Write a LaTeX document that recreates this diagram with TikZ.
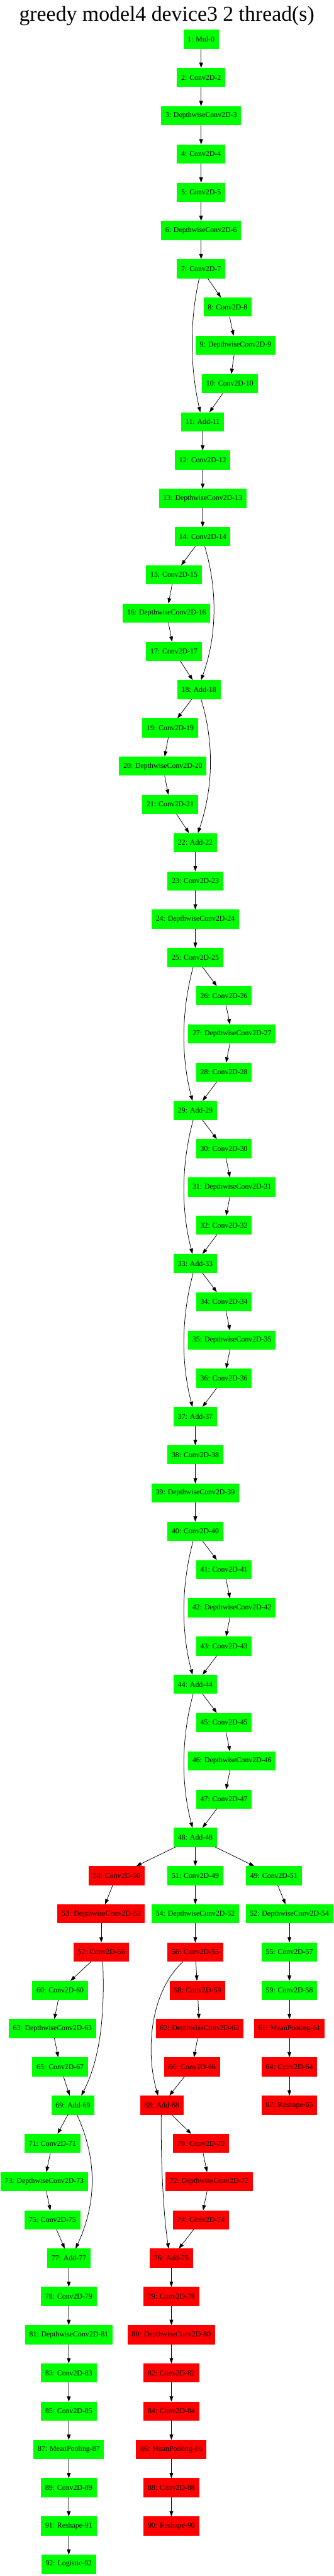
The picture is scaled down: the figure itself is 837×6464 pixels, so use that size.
\documentclass[tikz,border=0pt]{standalone}
\usepackage{fontspec}
\setmainfont{Liberation Serif}
\usetikzlibrary{arrows.meta, positioning}
\definecolor{gvgreen}{HTML}{00FF00}
\definecolor{gvred}{HTML}{FF0000}
\tikzstyle{gnode} = [rectangle, fill=gvgreen, minimum width=54pt, minimum height=36pt,
	inner xsep=8pt, inner ysep=2pt, outer sep=0pt, font=\fontsize{14pt}{16pt}\selectfont]
\tikzstyle{rnode} = [gnode, fill=gvred]
\tikzstyle{link} = [draw, -{Triangle[length=10pt, width=7pt]}, line width=0.9pt]

\begin{document}
\begin{tikzpicture}[x=0.75pt, y=-0.75pt, node distance = 72pt]
		\useasboundingbox (0,0) rectangle (837,6464);
		%Place title
		\node [font=\fontsize{40pt}{48pt}\selectfont, anchor=base] (title) at (418.5,53) {greedy model4 device3 2 thread(s)};
		
		%Place node
		\node [gnode] (n1) at (504.5,98.5) {1: Mul-0};
		\node [gnode, below of=n1] (n2) {2: Conv2D-2};
		\node [gnode, below of=n2] (n3) {3: DepthwiseConv2D-3};
		\node [gnode, below of=n3] (n4) {4: Conv2D-4};
		\node [gnode, below of=n4] (n5) {5: Conv2D-5};
		\node [gnode, below of=n5] (n6) {6: DepthwiseConv2D-6};
		\node [gnode, below of=n6] (n7) {7: Conv2D-7};
		\node [gnode, below of=n7, xshift=49.9pt] (n8) {8: Conv2D-8};
		\node [gnode, below of=n8, xshift=15pt] (n9) {9: DepthwiseConv2D-9};
		\node [gnode, below of=n9, xshift=-10.9pt] (n10) {10: Conv2D-10};
		\node [gnode, below of=n10, xshift=-51pt] (n11) {11: Add-11};
		\node [gnode, below of=n11] (n12) {12: Conv2D-12};
		\node [gnode, below of=n12] (n13) {13: DepthwiseConv2D-13};
		\node [gnode, below of=n13] (n14) {14: Conv2D-14};
		\node [gnode, below of=n14, xshift=-54pt] (n15) {15: Conv2D-15};
		\node [gnode, below of=n15, xshift=-13.9pt] (n16) {16: DepthwiseConv2D-16};
		\node [gnode, below of=n16, xshift=13.9pt] (n17) {17: Conv2D-17};
		\node [gnode, below of=n17, xshift=46.9pt] (n18) {18: Add-18};
		\node [gnode, below of=n18, xshift=-54pt] (n19) {19: Conv2D-19};
		\node [gnode, below of=n19, xshift=-13.9pt] (n20) {20: DepthwiseConv2D-20};
		\node [gnode, below of=n20, xshift=13.9pt] (n21) {21: Conv2D-21};
		\node [gnode, below of=n21, xshift=47.25pt] (n22) {22: Add-22};
		\node [gnode, below of=n22] (n23) {23: Conv2D-23};
		\node [gnode, below of=n23] (n24) {24: DepthwiseConv2D-24};
		\node [gnode, below of=n24] (n25) {25: Conv2D-25};
		\node [gnode, below of=n25, xshift=54pt] (n26) {26: Conv2D-26};
		\node [gnode, below of=n26, xshift=15pt] (n27) {27: DepthwiseConv2D-27};
		\node [gnode, below of=n27, xshift=-15pt] (n28) {28: Conv2D-28};
		\node [gnode, below of=n28, xshift=-54pt] (n29) {29: Add-29};
		\node [gnode, below of=n29, xshift=54pt] (n30) {30: Conv2D-30};
		\node [gnode, below of=n30, xshift=15pt] (n31) {31: DepthwiseConv2D-31};
		\node [gnode, below of=n31, xshift=-15pt] (n32) {32: Conv2D-32};
		\node [gnode, below of=n32, xshift=-54pt] (n33) {33: Add-33};
		\node [gnode, below of=n33, xshift=54pt] (n34) {34: Conv2D-34};
		\node [gnode, below of=n34, xshift=15pt] (n35) {35: DepthwiseConv2D-35};
		\node [gnode, below of=n35, xshift=-15pt] (n36) {36: Conv2D-36};
		\node [gnode, below of=n36, xshift=-54pt] (n37) {37: Add-37};
		\node [gnode, below of=n37] (n38) {38: Conv2D-38};
		\node [gnode, below of=n38] (n39) {39: DepthwiseConv2D-39};
		\node [gnode, below of=n39] (n40) {40: Conv2D-40};
		\node [gnode, below of=n40, xshift=54pt] (n41) {41: Conv2D-41};
		\node [gnode, below of=n41, xshift=15pt] (n42) {42: DepthwiseConv2D-42};
		\node [gnode, below of=n42, xshift=-15pt] (n43) {43: Conv2D-43};
		\node [gnode, below of=n43, xshift=-54pt] (n44) {44: Add-44};
		\node [gnode, below of=n44, xshift=54pt] (n45) {45: Conv2D-45};
		\node [gnode, below of=n45, xshift=15pt] (n46) {46: DepthwiseConv2D-46};
		\node [gnode, below of=n46, xshift=-15pt] (n47) {47: Conv2D-47};
		\node [gnode, below of=n47, xshift=-54pt] (n48) {48: Add-48};
		
		\node [rnode, below of=n48, xshift=-148.1pt] (n50) {50: Conv2D-50};
		\node [gnode, below of=n48] (n51) {51: Conv2D-49};
		\node [gnode, below of=n48, xshift=147.75pt] (n49) {49: Conv2D-51};
		\node [rnode, below of=n50, xshift=-28.9pt] (n53) {53: DepthwiseConv2D-53};
		\node [gnode, below of=n51] (n54) {54: DepthwiseConv2D-52};
		\node [gnode, below of=n49, xshift=29.25pt] (n52) {52: DepthwiseConv2D-54};
		\node [rnode, below of=n53] (n57) {57: Conv2D-56};
		\node [rnode, below of=n54] (n56) {56: Conv2D-55};
		\node [gnode, below of=n52] (n55) {55: Conv2D-57};
		\node [gnode, below of=n57, xshift=-77.25pt] (n60) {60: Conv2D-60};
		\node [rnode, below of=n56, xshift=4.1pt] (n58) {58: Conv2D-59};
		\node [gnode, below of=n55] (n59) {59: Conv2D-58};
		\node [gnode, below of=n60, xshift=-14.6pt] (n63) {63: DepthwiseConv2D-63};
		\node [rnode, below of=n58, xshift=3.75pt] (n62) {62: DepthwiseConv2D-62};
		\node [rnode, below of=n59] (n61) {61: MeanPooling-61};
		\node [gnode, below of=n63, xshift=14.6pt] (n65) {65: Conv2D-67};
		\node [rnode, below of=n62, xshift=-13.9pt] (n66) {66: Conv2D-66};
		\node [rnode, below of=n61] (n64) {64: Conv2D-64};
		\node [gnode, below of=n65, xshift=24pt] (n69) {69: Add-69};
		\node [rnode, below of=n66, xshift=-57pt] (n68) {68: Add-68};
		\node [rnode, below of=n64] (n67) {67: Reshape-65};
		\node [gnode, below of=n69, xshift=-38.6pt] (n71) {71: Conv2D-71};
		\node [rnode, below of=n68, xshift=73.9pt] (n70) {70: Conv2D-70};
		\node [gnode, below of=n71, xshift=-15.4pt] (n73) {73: DepthwiseConv2D-73};
		\node [rnode, below of=n70, xshift=15pt] (n72) {72: DepthwiseConv2D-72};
		\node [gnode, below of=n73, xshift=15.4pt] (n75) {75: Conv2D-75};
		\node [rnode, below of=n72, xshift=-15pt] (n74) {74: Conv2D-74};
		\node [gnode, below of=n75, xshift=30.75pt] (n77) {77: Add-77};
		\node [rnode, below of=n74, xshift=-55.9pt] (n76) {76: Add-76};
		\node [gnode, below of=n77] (n78) {78: Conv2D-79};
		\node [rnode, below of=n76] (n79) {79: Conv2D-78};
		\node [gnode, below of=n78] (n81) {81: DepthwiseConv2D-81};
		\node [rnode, below of=n79] (n80) {80: DepthwiseConv2D-80};
		\node [gnode, below of=n81] (n83) {83: Conv2D-83};
		\node [rnode, below of=n80] (n82) {82: Conv2D-82};
		\node [gnode, below of=n83] (n85) {85: Conv2D-85};
		\node [rnode, below of=n82] (n84) {84: Conv2D-84};
		\node [gnode, below of=n85] (n87) {87: MeanPooling-87};
		\node [rnode, below of=n84] (n86) {86: MeanPooling-86};
		\node [gnode, below of=n87] (n89) {89: Conv2D-89};
		\node [rnode, below of=n86] (n88) {88: Conv2D-88};
		\node [gnode, below of=n89] (n91) {91: Reshape-91};
		\node [rnode, below of=n88] (n90) {90: Reshape-90};
		\node [gnode, below of=n91] (n92) {92: Logistic-92};
		
		%Draw edges
		\draw [link] (n1) -- (n2);
		\draw [link] (n2) -- (n3);
		\draw [link] (n3) -- (n4);
		\draw [link] (n4) -- (n5);
		\draw [link] (n5) -- (n6);
		\draw [link] (n6) -- (n7);
		\draw [link] (n7) -- (n8);
		\draw [link] (n8) -- (n9);
		\draw [link] (n9) -- (n10);
		\draw [link] (n10) -- (n11);
		\draw [link] (n11) -- (n12);
		\draw [link] (n12) -- (n13);
		\draw [link] (n13) -- (n14);
		\draw [link] (n14) -- (n15);
		\draw [link] (n15) -- (n16);
		\draw [link] (n16) -- (n17);
		\draw [link] (n17) -- (n18);
		\draw [link] (n18) -- (n19);
		\draw [link] (n19) -- (n20);
		\draw [link] (n20) -- (n21);
		\draw [link] (n21) -- (n22);
		\draw [link] (n22) -- (n23);
		\draw [link] (n23) -- (n24);
		\draw [link] (n24) -- (n25);
		\draw [link] (n25) -- (n26);
		\draw [link] (n26) -- (n27);
		\draw [link] (n27) -- (n28);
		\draw [link] (n28) -- (n29);
		\draw [link] (n29) -- (n30);
		\draw [link] (n30) -- (n31);
		\draw [link] (n31) -- (n32);
		\draw [link] (n32) -- (n33);
		\draw [link] (n33) -- (n34);
		\draw [link] (n34) -- (n35);
		\draw [link] (n35) -- (n36);
		\draw [link] (n36) -- (n37);
		\draw [link] (n37) -- (n38);
		\draw [link] (n38) -- (n39);
		\draw [link] (n39) -- (n40);
		\draw [link] (n40) -- (n41);
		\draw [link] (n41) -- (n42);
		\draw [link] (n42) -- (n43);
		\draw [link] (n43) -- (n44);
		\draw [link] (n44) -- (n45);
		\draw [link] (n45) -- (n46);
		\draw [link] (n46) -- (n47);
		\draw [link] (n47) -- (n48);
		\draw [link] (n48) -- (n50);
		\draw [link] (n48) -- (n51);
		\draw [link] (n48) -- (n49);
		\draw [link] (n50) -- (n53);
		\draw [link] (n51) -- (n54);
		\draw [link] (n49) -- (n52);
		\draw [link] (n53) -- (n57);
		\draw [link] (n54) -- (n56);
		\draw [link] (n52) -- (n55);
		\draw [link] (n57) -- (n60);
		\draw [link] (n56) -- (n58);
		\draw [link] (n55) -- (n59);
		\draw [link] (n60) -- (n63);
		\draw [link] (n63) -- (n65);
		\draw [link] (n65) -- (n69);
		\draw [link] (n58) -- (n62);
		\draw [link] (n62) -- (n66);
		\draw [link] (n66) -- (n68);
		\draw [link] (n59) -- (n61);
		\draw [link] (n61) -- (n64);
		\draw [link] (n64) -- (n67);
		\draw [link] (n69) -- (n71);
		\draw [link] (n71) -- (n73);
		\draw [link] (n73) -- (n75);
		\draw [link] (n75) -- (n77);
		\draw [link] (n68) -- (n70);
		\draw [link] (n70) -- (n72);
		\draw [link] (n72) -- (n74);
		\draw [link] (n74) -- (n76);
		\draw [link] (n77) -- (n78);
		\draw [link] (n78) -- (n81);
		\draw [link] (n81) -- (n83);
		\draw [link] (n83) -- (n85);
		\draw [link] (n85) -- (n87);
		\draw [link] (n87) -- (n89);
		\draw [link] (n89) -- (n91);
		\draw [link] (n91) -- (n92);
		\draw [link] (n76) -- (n79);
		\draw [link] (n79) -- (n80);
		\draw [link] (n80) -- (n82);
		\draw [link] (n82) -- (n84);
		\draw [link] (n84) -- (n86);
		\draw [link] (n86) -- (n88);
		\draw [link] (n88) -- (n90);
		
		%Draw skip edges
		\draw [link] ([xshift=-3.5pt]n7.south) .. controls +(-25,110) and +(-25,-110) .. ([xshift=-4.5pt]n11.north);
		\draw [link] ([xshift=3.75pt]n14.south) .. controls +(33,110) and +(40,-110) .. ([xshift=4pt]n18.north);
		\draw [link] ([xshift=4pt]n18.south) .. controls +(34,110) and +(38,-110) .. ([xshift=4.8pt]n22.north);
		\draw [link] ([xshift=-4pt]n25.south) .. controls +(-30,110) and +(-29,-110) .. ([xshift=-5.25pt]n29.north);
		\draw [link] ([xshift=-4pt]n29.south) .. controls +(-30,110) and +(-29,-110) .. ([xshift=-5.25pt]n33.north);
		\draw [link] ([xshift=-4pt]n33.south) .. controls +(-30,110) and +(-29,-110) .. ([xshift=-5.25pt]n37.north);
		\draw [link] ([xshift=-4pt]n40.south) .. controls +(-30,110) and +(-29,-110) .. ([xshift=-5.25pt]n44.north);
		\draw [link] ([xshift=-4pt]n44.south) .. controls +(-30,110) and +(-29,-110) .. ([xshift=-5.25pt]n48.north);
		\draw [link] ([xshift=2.8pt]n57.south) .. controls +(6,137.5) and +(46,-88.5) .. ([xshift=15.7pt]n69.north);
		\draw [link] ([xshift=-23.25pt]n56.south) .. controls +(-84,77.5) and +(-31.6,-108.5) .. ([xshift=-7pt]n68.north);
		\draw [link] ([xshift=7.6pt]n69.south) .. controls +(52,113.5) and +(52.5,-112.5) .. ([xshift=12.75pt]n77.north);
		\draw [link] ([xshift=-1pt]n68.south) .. controls +(-1.6,113.5) and +(-13.3,-82.5) .. ([xshift=-5pt]n76.north);
		
	\end{tikzpicture}
\end{document}
